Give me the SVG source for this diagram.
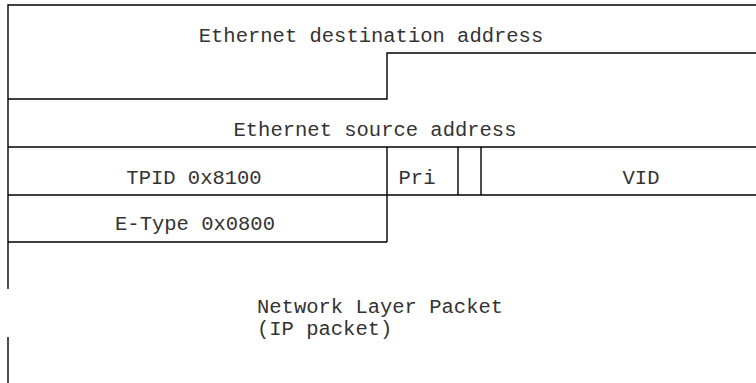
<svg xmlns="http://www.w3.org/2000/svg" width="756" height="383" viewBox="0 0 756 383">
<style>
.l{stroke:#000;stroke-width:1.4;fill:none}
.t{font-family:"Liberation Mono","Courier New",monospace;font-size:20.5px;fill:#333}
.c{text-anchor:middle}
</style>
<rect width="756" height="383" fill="#fff"/>
<g id="dest">
<path class="l" d="M8,289 V5 H756 M8,99 H387 V53 H756"/>
<text class="t c" x="371" y="42">Ethernet destination address</text>
</g>
<g id="src">
<path class="l" d="M8,147 H756"/>
<text class="t c" x="375" y="136">Ethernet source address</text>
</g>
<g id="tpid">
<path class="l" d="M8,195 H756 M387,147 V242"/>
<text class="t c" x="194" y="184">TPID 0x8100</text>
</g>
<g id="pri">
<path class="l" d="M458,147 V195"/>
<text class="t c" x="417" y="184">Pri</text>
</g>
<g id="cfi">
<path class="l" d="M481,147 V195"/>
</g>
<g id="vid">
<text class="t c" x="641" y="184">VID</text>
</g>
<g id="etype">
<path class="l" d="M8,242 H387"/>
<text class="t c" x="195" y="230">E-Type 0x0800</text>
</g>
<g id="payload">
<path class="l" d="M8,337 V383"/>
<text class="t" x="257" y="313">Network Layer Packet</text>
<text class="t" x="257" y="335">(IP packet)</text>
</g>
</svg>
